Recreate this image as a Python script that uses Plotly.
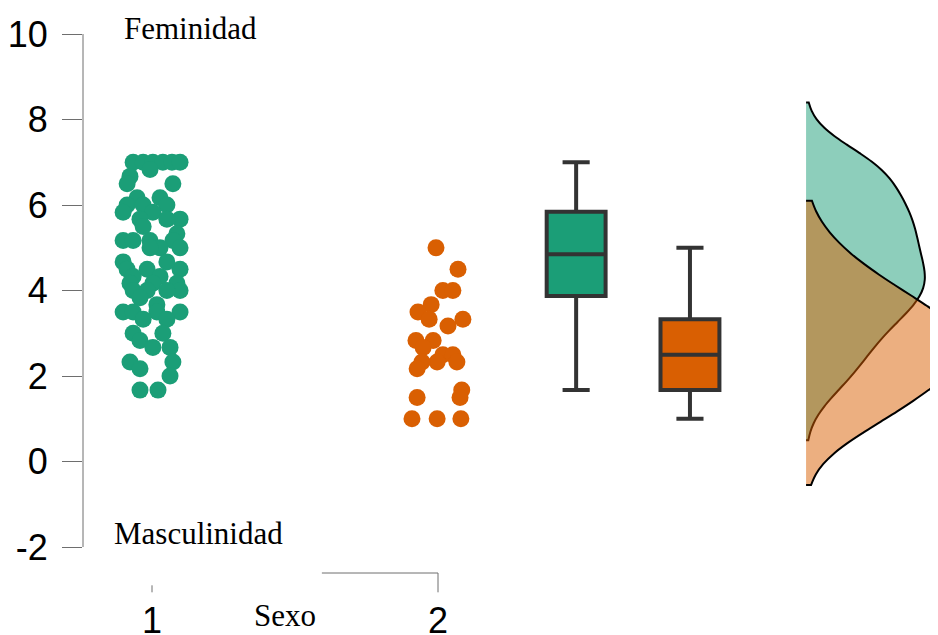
import plotly.graph_objects as go

# ---- data ----
g1_x = [0.934, 0.969, 1.003, 1.038, 1.070, 1.098, 0.993, 0.923, 1.073, 0.913,
        1.028, 0.948, 0.913, 1.052, 0.899, 0.969, 1.003, 1.098, 0.958, 1.052,
        1.087, 0.969, 0.899, 0.934, 0.993, 1.073, 1.098, 1.028, 0.993, 0.899,
        0.913, 1.098, 0.983, 1.052, 0.934, 1.028, 0.923, 1.003, 1.087, 1.098,
        0.934, 0.983, 1.052, 0.958, 1.017, 0.899, 0.934, 1.017, 1.098, 0.969,
        1.052, 0.934, 1.038, 0.958, 1.003, 1.063, 1.073, 0.923, 0.958, 1.063,
        0.958, 1.021]
g1_y = [7.0, 7.0, 7.0, 7.0, 7.0, 7.0, 6.83, 6.67, 6.5, 6.5,
        6.17, 6.17, 6.0, 6.0, 5.83, 6.0, 5.83, 5.67, 5.67, 5.67,
        5.33, 5.5, 5.17, 5.17, 5.17, 5.17, 5.0, 5.0, 5.0, 4.67,
        4.5, 4.5, 4.5, 4.67, 4.33, 4.33, 4.17, 4.17, 4.17, 4.0,
        4.0, 4.0, 4.0, 3.83, 3.67, 3.5, 3.5, 3.5, 3.5, 3.33,
        3.33, 3.0, 3.0, 2.83, 2.67, 2.67, 2.33, 2.33, 2.17, 2.0,
        1.67, 1.67]

g2_x = [1.993, 2.070, 2.017, 2.052, 1.976, 1.930, 1.969, 2.087, 2.035, 1.923,
        1.983, 1.948, 2.017, 2.052, 1.997, 2.066, 1.944, 1.927, 2.083, 2.077,
        1.927, 1.909, 1.997, 2.080]
g2_y = [5.0, 4.5, 4.0, 4.0, 3.67, 3.5, 3.33, 3.33, 3.17, 2.83,
        2.83, 2.67, 2.5, 2.5, 2.33, 2.33, 2.33, 2.17, 1.67, 1.5,
        1.5, 1.0, 1.0, 1.0]

# box statistics
box_pos = [2.483, 2.881]
box_q1 = [3.87, 1.67]
box_median = [4.85, 2.5]
box_q3 = [5.84, 3.33]
box_low = [1.67, 1.0]
box_high = [7.0, 5.0]

dens_pos = 3.287
dens_span_1 = [0.5, 8.4]
dens_span_2 = [-0.55, 6.1]

y_ticks = [-2, 0, 2, 4, 6, 8, 10]
y_ticktext = ["-2", "0", "2", "4", "6", "8", "10"]
x_ticks = [1, 2]
x_ticktext = ["1", "2"]

GREEN = "#1b9e77"
ORANGE = "#d95f02"
AXC = "#6e6e6e"

fig = go.Figure()

# densities (half violins), green below orange
fig.add_trace(go.Violin(
    x=[dens_pos] * len(g1_y), y=g1_y, orientation="v", side="positive",
    width=0.83, bandwidth=0.6, spanmode="manual", span=dens_span_1, scalemode="width",
    fillcolor="rgba(27,158,119,0.5)", line=dict(color="black", width=2),
    points=False, box_visible=False, meanline_visible=False,
    hoverinfo="skip"))
fig.add_trace(go.Violin(
    x=[dens_pos] * len(g2_y), y=g2_y, orientation="v", side="positive",
    width=1.10, bandwidth=0.75, spanmode="manual", span=dens_span_2, scalemode="width",
    fillcolor="rgba(217,95,2,0.5)", line=dict(color="black", width=2),
    points=False, box_visible=False, meanline_visible=False,
    hoverinfo="skip"))

# jittered points
fig.add_trace(go.Scatter(x=g1_x, y=g1_y, mode="markers",
                         marker=dict(color=GREEN, size=17, line=dict(width=0))))
fig.add_trace(go.Scatter(x=g2_x, y=g2_y, mode="markers",
                         marker=dict(color=ORANGE, size=17, line=dict(width=0))))

# boxes
for i, col in enumerate([GREEN, ORANGE]):
    fig.add_trace(go.Box(
        x=[box_pos[i]], q1=[box_q1[i]], median=[box_median[i]], q3=[box_q3[i]],
        lowerfence=[box_low[i]], upperfence=[box_high[i]],
        width=0.206, whiskerwidth=0.46, fillcolor=col,
        line=dict(color="#333333", width=4), boxpoints=False))

# axis decorations
fig.add_shape(type="line", xref="paper", yref="y", x0=0, x1=0, y0=-2, y1=10,
              line=dict(color=AXC, width=1))
fig.add_shape(type="line", xref="x", yref="paper", x0=1.594, x1=2, y0=0, y1=0,
              line=dict(color=AXC, width=1))
fig.add_shape(type="line", xref="x", yref="paper", x0=1, x1=1, y0=-0.0218, y1=-0.0342,
              line=dict(color=AXC, width=1))
fig.add_shape(type="line", xref="x", yref="paper", x0=2, x1=2, y0=0, y1=-0.0342,
              line=dict(color=AXC, width=1))

SERIF = dict(family="Liberation Serif", size=31, color="black")
fig.add_annotation(x=1.133, y=10.14, xref="x", yref="y", text="Feminidad",
                   showarrow=False, font=SERIF)
fig.add_annotation(x=1.161, y=-1.68, xref="x", yref="y", text="Masculinidad",
                   showarrow=False, font=SERIF)
fig.add_annotation(x=1.465, y=-0.0749, xref="x", yref="paper", text="Sexo",
                   showarrow=False, font=SERIF, xanchor="center", yanchor="middle")

fig.update_layout(
    width=930, height=627,
    margin=dict(l=75, r=0, t=0, b=62, pad=0),
    paper_bgcolor="white", plot_bgcolor="white",
    showlegend=False, violinmode="overlay", boxmode="overlay",
    xaxis=dict(range=[0.7587, 3.7483], showgrid=False, zeroline=False, showline=False,
               tickvals=x_ticks, ticktext=x_ticktext, ticks="outside", ticklen=19,
               tickcolor="rgba(0,0,0,0)", ticklabelstandoff=-3, automargin=False,
               tickfont=dict(family="Liberation Sans", size=36, color="black")),
    yaxis=dict(range=[-2.608, 10.609], showgrid=False, zeroline=False, showline=False,
               tickvals=y_ticks, ticktext=y_ticktext, ticks="outside", ticklen=20,
               tickcolor=AXC, tickwidth=1, ticklabelstandoff=7, automargin=False,
               tickfont=dict(family="Liberation Sans", size=36, color="black")),
)

fig.write_html("out.html")
